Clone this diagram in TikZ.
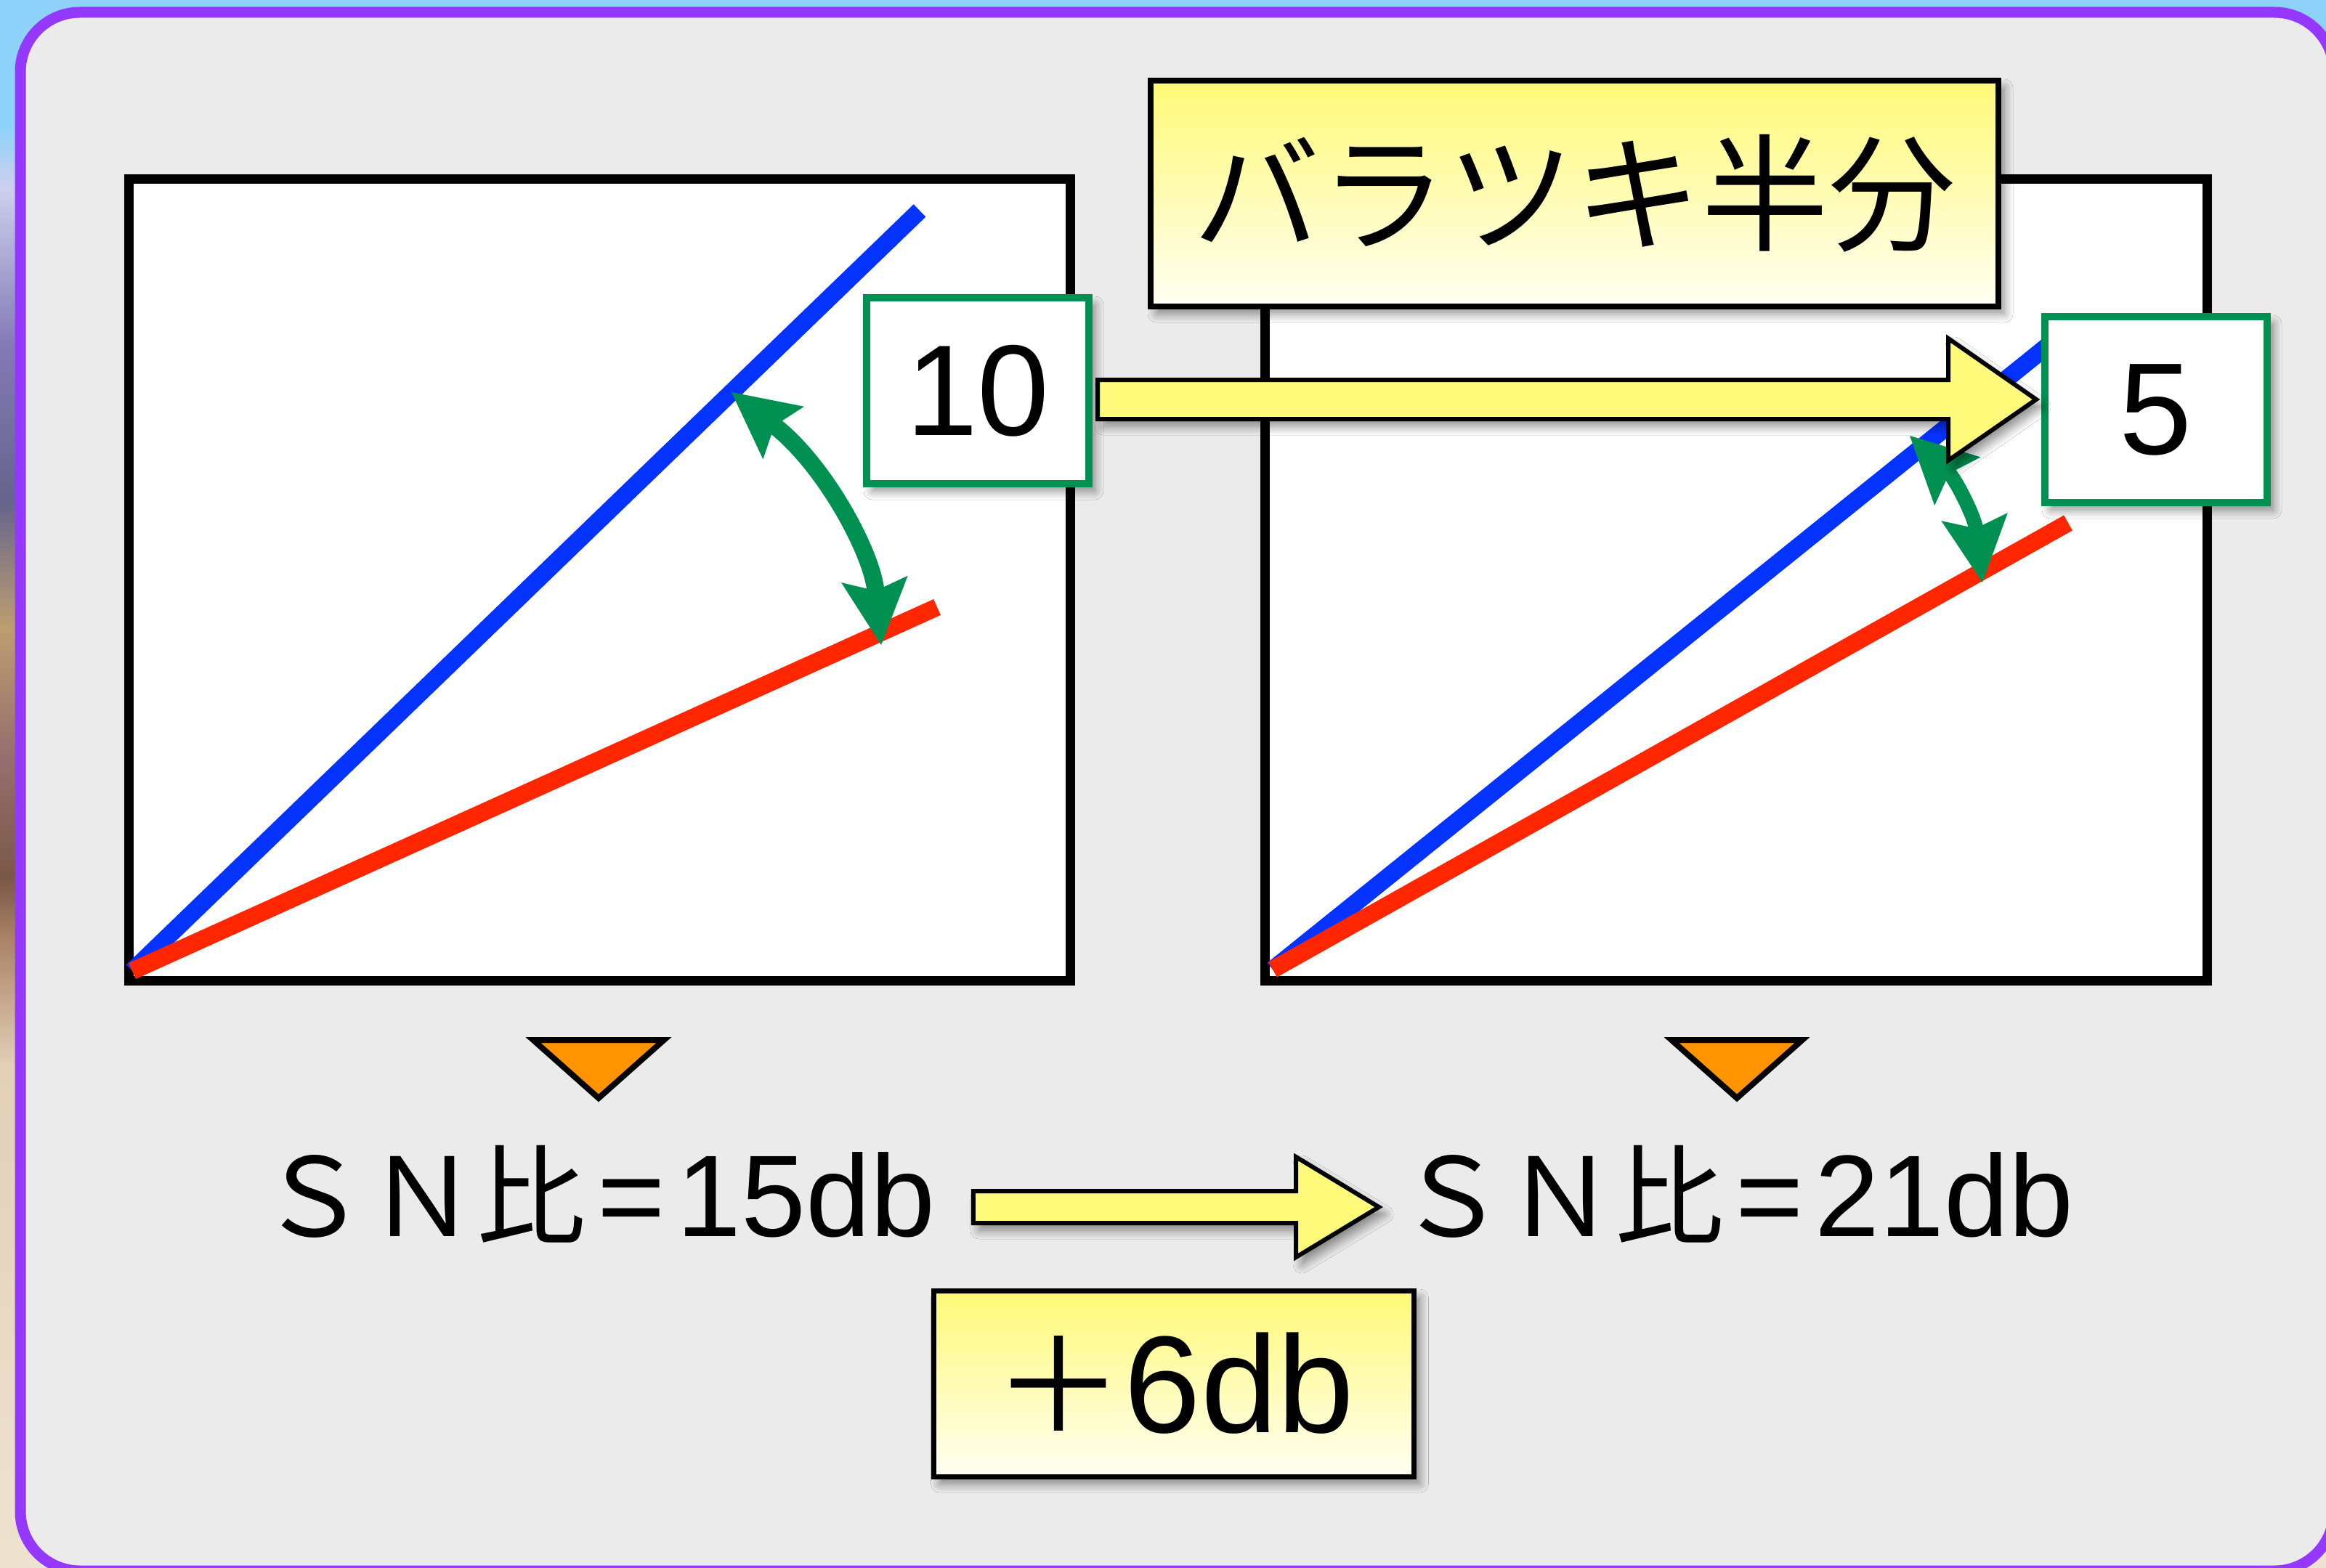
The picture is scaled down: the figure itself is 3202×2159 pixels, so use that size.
\documentclass[tikz,border=0pt]{standalone}
\usepackage{fontspec}
\setmainfont{Liberation Sans}
\newfontfamily\jp{Noto Sans CJK JP}
\usetikzlibrary{arrows.meta,calc,shadows.blur}
\definecolor{bgc}{RGB}{235,235,235}
\definecolor{purp}{RGB}{148,55,255}
\definecolor{bl}{RGB}{4,51,255}
\definecolor{rd}{RGB}{255,38,0}
\definecolor{gr}{RGB}{0,144,81}
\definecolor{org}{RGB}{255,147,0}
\definecolor{yl}{RGB}{255,250,122}
\definecolor{ylt}{RGB}{255,249,118}
\definecolor{ylb}{RGB}{255,255,243}
\definecolor{ph0}{RGB}{238,226,208}
\definecolor{ph1}{RGB}{226,208,184}
\definecolor{ph2}{RGB}{172,132,104}
\definecolor{ph3}{RGB}{122,88,72}
\definecolor{ph4}{RGB}{150,112,112}
\definecolor{ph5}{RGB}{188,158,112}
\definecolor{ph6}{RGB}{102,100,140}
\definecolor{ph7}{RGB}{132,122,182}
\definecolor{ph8}{RGB}{205,208,236}
\definecolor{ph9}{RGB}{142,210,250}
\pgfdeclareverticalshading{photo}{100bp}{
 color(0bp)=(ph0); color(25bp)=(ph0); color(41bp)=(ph1); color(45bp)=(ph2);
 color(47bp)=(ph3); color(51bp)=(ph4); color(55bp)=(ph5); color(59bp)=(ph6);
 color(64bp)=(ph7); color(69bp)=(ph8); color(71bp)=(ph9); color(75bp)=(ph9); color(100bp)=(ph9)}
\begin{document}
\begin{tikzpicture}[x=1pt,y=-1pt,
  panel/.style={draw=black, line width=13, fill=white, inner sep=0, minimum height=1103},
  bline/.style={draw=bl, line width=24},
  rline/.style={draw=rd, line width=24},
  shd/.style={blur shadow={shadow xshift=8pt, shadow yshift=-10pt, shadow blur radius=12pt, shadow blur steps=12, shadow opacity=45}},
  gbox/.style={draw=gr, line width=10, fill=white, minimum width=306, minimum height=256, inner sep=0, shd},
  ybox/.style={draw=black, top color=ylt, bottom color=ylb, inner sep=0, shd},
  fat/.style={draw=black, line width=6, fill=yl, line join=miter, shd},
  garrow/.style={draw=gr, line width=24, {Stealth[length=91pt, width=92pt, inset=16pt, line width=0pt]}-{Stealth[length=91pt, width=92pt, inset=16pt, line width=0pt]}},
  tri/.style={draw=black, line width=8, fill=org, line join=miter},
  sn/.style={inner sep=0, anchor=base}
]
\useasboundingbox (0,0) rectangle (3202,2159);
\shade[shading=photo] (0,0) rectangle (3202,2159);
\draw[line width=15, draw=purp, fill=bgc, rounded corners=82] (28,17) rectangle (3213,2163);

% left panel
\node[panel, minimum width=1296] (pL) at (825,798.5) {};
\coordinate (oL) at (182,1337);
\coordinate (bL) at (1266,290);
\coordinate (rL) at (1290,836);
\draw[bline] (oL) -- (bL);
\draw[rline] (oL) -- (rL);
\coordinate (gL1) at (1007,540);
\coordinate (gL2) at (1213,888);
\draw[garrow] (gL1) .. controls (1135,640) and (1200,760) .. (gL2);
\node[gbox] (b10) at (1346,538) {\fontsize{178}{178}\selectfont 10};

% right panel
\node[panel, minimum width=1297] (pR) at (2389.5,798.5) {};
\coordinate (oR) at (1752,1335);
\coordinate (bR) at (2850,451);
\coordinate (rR) at (2847,720);
\draw[bline] (oR) -- (bR);
\draw[rline] (oR) -- (rR);
\coordinate (gR1) at (2629,600);
\coordinate (gR2) at (2729,802);
\draw[garrow, line width=20] (gR1) .. controls (2692,660) and (2718,711) .. (gR2);

\node[ybox, line width=8, minimum width=1167, minimum height=311] (title) at (2167.5,266.5)
  {\jp\fontsize{175}{175}\selectfont バラツキ半分};
\node[gbox] (b5) at (2968,564) {\fontsize{180}{180}\selectfont 5};

% top fat arrow
\coordinate (S1) at ($(b10.east)+(7,12)$);
\coordinate (T1) at ($(b5.west)+(-7,-14)$);
\draw[fat] ($(S1)+(0,-27)$) -- ($(T1)+(-121,-27)$) -- ($(T1)+(-121,-84)$) -- (T1)
  -- ($(T1)+(-121,84)$) -- ($(T1)+(-121,27)$) -- ($(S1)+(0,27)$) -- cycle;

% triangles
\draw[tri] (734,1432) -- (914,1432) -- (824,1512) -- cycle;
\draw[tri] (2301,1432) -- (2481,1432) -- (2391,1512) -- cycle;

% SN texts
\node[sn] (snL) at (822,1702) {{\jp\fontsize{150}{150}\selectfont ＳＮ比}{\fontsize{160}{160}\selectfont\hspace{16pt}=\hspace{16pt}15db}};
\node[sn] (snR) at (2389,1702) {{\jp\fontsize{150}{150}\selectfont ＳＮ比}{\fontsize{160}{160}\selectfont\hspace{16pt}=\hspace{16pt}21db}};

\coordinate (ay) at (0,1662);
\coordinate (S2) at ($(snL.east |- ay)+(52,0)$);
\coordinate (T2) at ($(snR.west |- ay)+(-25,0)$);
\draw[fat] ($(S2)+(0,-22)$) -- ($(T2)+(-114,-22)$) -- ($(T2)+(-114,-69)$) -- (T2)
  -- ($(T2)+(-114,69)$) -- ($(T2)+(-114,22)$) -- ($(S2)+(0,22)$) -- cycle;

\node[ybox, line width=7, minimum width=661, minimum height=256] (plus) at (1616,1905)
  {{\jp\fontsize{180}{180}\selectfont ＋}{\fontsize{190}{190}\selectfont 6db}};
\end{tikzpicture}
\end{document}
